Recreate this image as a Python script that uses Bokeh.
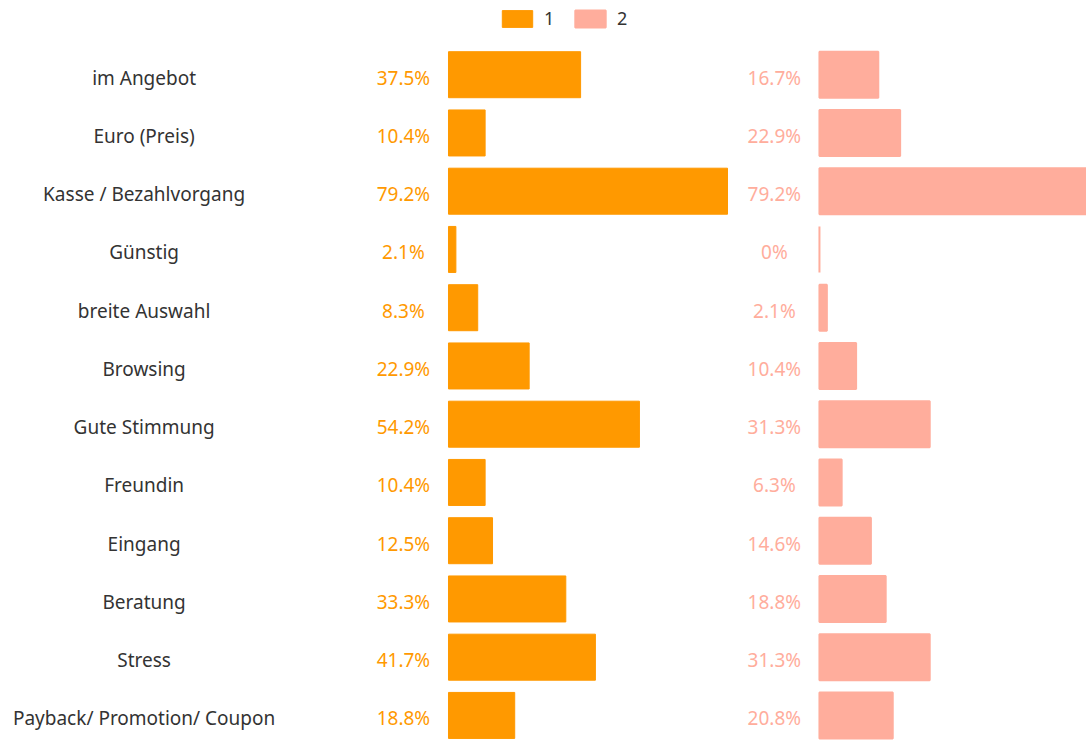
from bokeh.plotting import figure
from bokeh.models import ColumnDataSource, Range1d, Legend, LegendItem
from bokeh.core.properties import value
from bokeh.transform import dodge
from bokeh.embed import file_html
from bokeh.resources import INLINE

# ---- data ----
categories = ["im Angebot", "Euro (Preis)", "Kasse / Bezahlvorgang", "Günstig",
              "breite Auswahl", "Browsing", "Gute Stimmung", "Freundin",
              "Eingang", "Beratung", "Stress", "Payback/ Promotion/ Coupon"]
series1 = [37.5, 10.4, 79.2, 2.1, 8.3, 22.9, 54.2, 10.4, 12.5, 33.3, 41.7, 18.8]
series2 = [16.7, 22.9, 79.2, 0, 2.1, 10.4, 31.3, 6.3, 14.6, 18.8, 31.3, 20.8]
series_names = ["1", "2"]
colors = ["#ff9900", "#ffad9c"]

# ---- layout constants (percent units) ----
OFFSET2 = 105.3      # where the second bar column starts
LABEL_X = -12.8      # value labels, relative to their bar column
CAT_X = -86.4        # category label centre
FONT = value("Noto Sans")

n = len(categories)
rows = list(range(n))
src = ColumnDataSource(dict(
    y=rows, cat=categories, s1=series1, s2=series2,
    l1=[f"{v:g}%" for v in series1], l2=[f"{v:g}%" for v in series2],
))

p = figure(width=1086, height=751, output_backend="svg", toolbar_location=None,
           x_range=Range1d(-127.16, 181.1), y_range=Range1d(11.619, -1.274),
           min_border=0, outline_line_color=None)
p.axis.visible = False
p.grid.visible = False

r1 = p.hbar(y="y", left=0, right="s1", height=0.79, source=src,
            fill_color=colors[0], line_color=colors[0], line_width=1)
r2 = p.hbar(y="y", left=OFFSET2, right=dodge("s2", OFFSET2), height=0.79, source=src,
            fill_color=colors[1], line_color=colors[1], line_width=2)

p.text(x=CAT_X, y="y", text="cat", source=src, text_align="center",
       text_baseline="middle", y_offset=3, text_font_size="19px",
       text_color="#333333", text_font=FONT)
p.text(x=LABEL_X, y="y", text="l1", source=src, text_align="center",
       text_baseline="middle", y_offset=3, text_font_size="19px",
       text_color=colors[0], text_font=FONT)
p.text(x=OFFSET2 + LABEL_X, y="y", text="l2",
       source=src, text_align="center", text_baseline="middle", y_offset=3,
       text_font_size="19px", text_color=colors[1], text_font=FONT)

legend = Legend(items=[LegendItem(label=series_names[0], renderers=[r1]),
                       LegendItem(label=series_names[1], renderers=[r2])],
                orientation="horizontal", location=(498, 721),
                glyph_width=38, glyph_height=21, label_standoff=8, spacing=7,
                padding=0, margin=0, border_line_color=None,
                background_fill_alpha=0, label_text_font_size="18px",
                label_text_color="#333333", label_text_font="Noto Sans")
p.add_layout(legend)

open("out.html", "w").write(file_html(p, INLINE))
